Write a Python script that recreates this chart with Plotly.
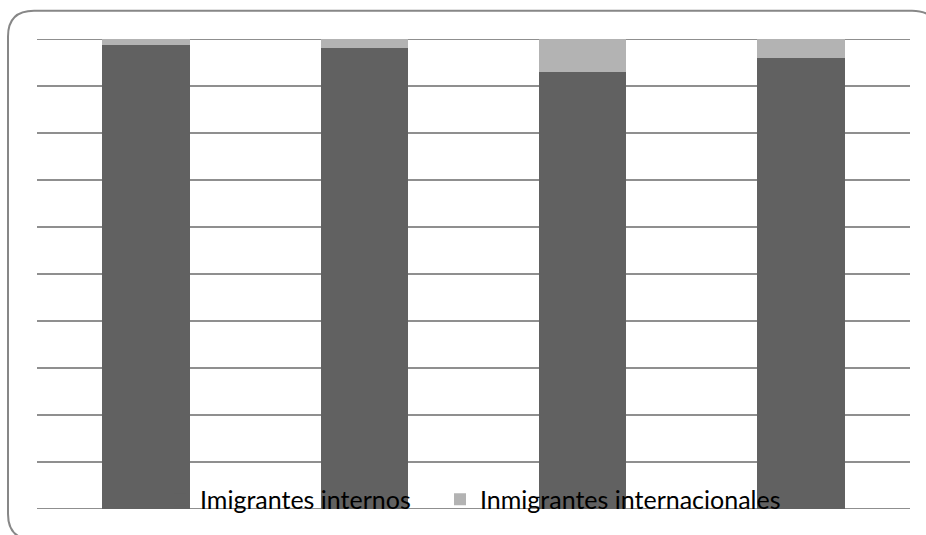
import plotly.graph_objects as go

categories = ["1", "2", "3", "4"]
internos = [98.7, 98.0, 93.0, 96.0]
internacionales = [1.3, 2.0, 7.0, 4.0]
series_names = ["Imigrantes internos", "Inmigrantes internacionales"]

W, H = 926, 535
L, R, T, B = 37, 910, 39, 514

def px(x):
    return (x - L) / (R - L)

def py(y):
    return (B - y) / (B - T)

fig = go.Figure()
fig.add_trace(go.Bar(x=categories, y=internos, name=series_names[0], legend="legend",
                     marker=dict(color="#616161", line=dict(width=0))))
fig.add_trace(go.Bar(x=categories, y=internacionales, name=series_names[1], legend="legend2",
                     marker=dict(color="#b3b3b3", line=dict(width=0))))

# rounded chart border
x0, x1, y0, y1, r = 8, 938, 10.5, 545, 26
path = (f"M {px(x0)},{py(y0 + r)} Q {px(x0)},{py(y0)} {px(x0 + r)},{py(y0)} "
        f"L {px(x1 - r)},{py(y0)} Q {px(x1)},{py(y0)} {px(x1)},{py(y0 + r)} "
        f"L {px(x1)},{py(y1 - r)} Q {px(x1)},{py(y1)} {px(x1 - r)},{py(y1)} "
        f"L {px(x0 + r)},{py(y1)} Q {px(x0)},{py(y1)} {px(x0)},{py(y1 - r)} Z")

shapes = [dict(type="path", xref="paper", yref="paper", path=path,
               line=dict(color="#878787", width=2), fillcolor="rgba(0,0,0,0)", layer="above")]
for yv in (0, 100):
    shapes.append(dict(type="line", xref="paper", yref="y", x0=0, x1=1, y0=yv, y1=yv,
                       line=dict(color="#8f8f8f", width=1.8), layer="below"))

legend_common = dict(orientation="h", y=0.02, yanchor="middle", xanchor="left",
                     bgcolor="rgba(0,0,0,0)", font=dict(size=25), itemwidth=30)

fig.update_layout(
    width=W, height=H,
    margin=dict(l=L, r=W - R, t=T, b=H - B, pad=0),
    barmode="stack", bargap=0.6,
    plot_bgcolor="white", paper_bgcolor="white",
    font=dict(family="Lato", size=25, color="#000000"),
    showlegend=True,
    legend=dict(x=px(160), **legend_common),
    legend2=dict(x=px(440), **legend_common),
    xaxis=dict(showticklabels=False, showgrid=False, zeroline=False, showline=False, ticks=""),
    yaxis=dict(range=[0, 100], dtick=10, showticklabels=False, showgrid=True,
               gridcolor="#8f8f8f", gridwidth=1.8, zeroline=False, showline=False, ticks=""),
    shapes=shapes,
)

fig.write_html("out.html")
